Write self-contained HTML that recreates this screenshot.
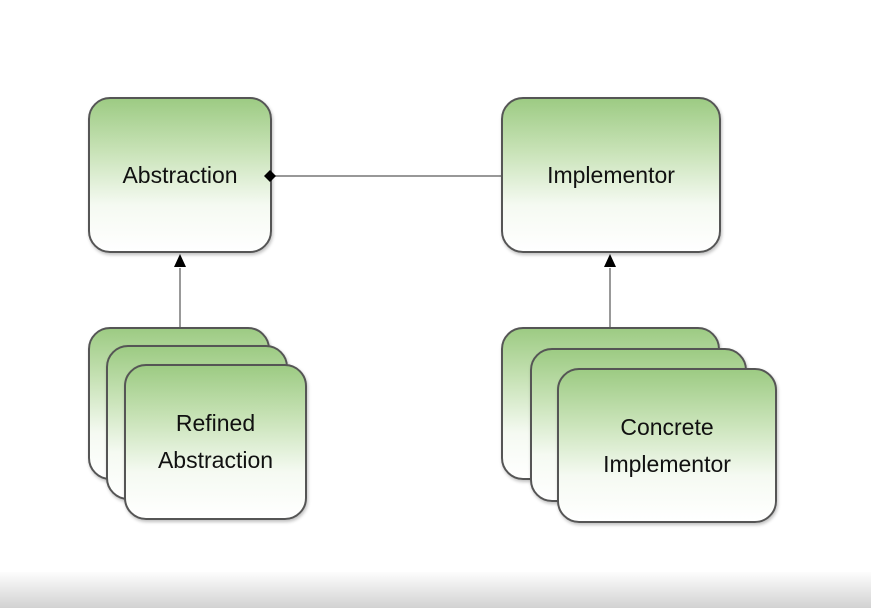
<!DOCTYPE html>
<html><head><style>
body{margin:0;width:871px;height:608px;background:#fff;position:relative;overflow:hidden;font-family:"Liberation Sans",sans-serif}
.b{position:absolute;box-sizing:border-box;border:2px solid #555;border-radius:22px;background:linear-gradient(#9dcb83 0%,#c9e3b8 35%,#f5faf2 70%,#fff 100%);box-shadow:1px 2px 3px rgba(0,0,0,.25);display:flex;align-items:center;justify-content:center;text-align:center;font-size:23px;color:#111;line-height:37px}
.bot{position:absolute;left:0;top:572px;width:871px;height:36px;background:linear-gradient(#fdfdfd,#d2d2d2)}
</style></head><body>
<svg width="871" height="608" style="position:absolute;left:0;top:0">
<line x1="272" y1="176" x2="501" y2="176" stroke="#777" stroke-width="1.5"/>
<line x1="180" y1="268" x2="180" y2="327" stroke="#777" stroke-width="1.5"/>
<line x1="610" y1="268" x2="610" y2="327" stroke="#777" stroke-width="1.5"/>
</svg>
<div class="b" style="left:88px;top:97px;width:184px;height:156px">Abstraction</div>
<div class="b" style="left:501px;top:97px;width:220px;height:156px">Implementor</div>
<div class="b" style="left:88px;top:327px;width:182px;height:153px"></div>
<div class="b" style="left:106px;top:345px;width:182px;height:155px"></div>
<div class="b" style="left:124px;top:364px;width:183px;height:156px">Refined<br>Abstraction</div>
<div class="b" style="left:501px;top:327px;width:219px;height:153px"></div>
<div class="b" style="left:530px;top:348px;width:217px;height:154px"></div>
<div class="b" style="left:557px;top:368px;width:220px;height:155px">Concrete<br>Implementor</div>
<svg width="871" height="608" style="position:absolute;left:0;top:0">
<polygon points="264,176 270,170 276,176 270,182" fill="#000"/>
<polygon points="180,254 174,267 186,267" fill="#000"/>
<polygon points="610,254 604,267 616,267" fill="#000"/>
</svg>
<div class="bot"></div>
</body></html>
